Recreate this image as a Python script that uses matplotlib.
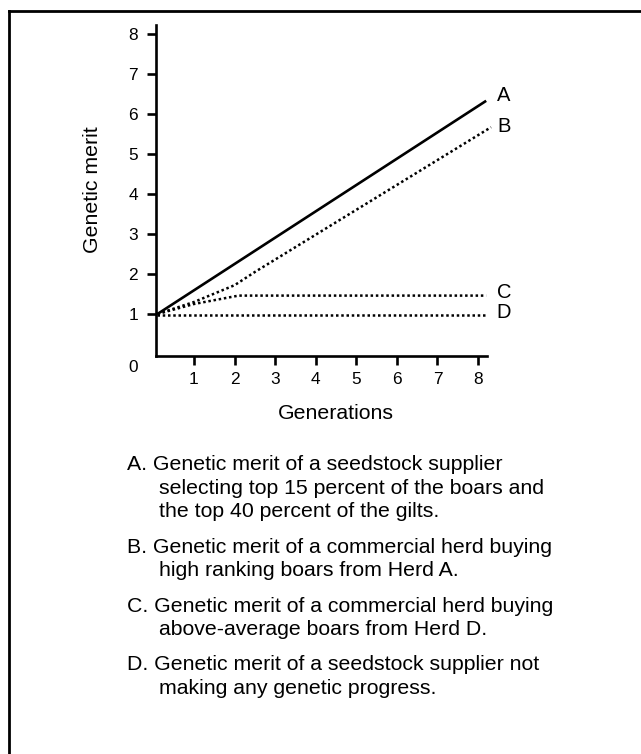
import matplotlib
matplotlib.use("Agg")
import matplotlib.pyplot as plt
from matplotlib.lines import Line2D

plt.rcParams['font.family'] = ['Liberation Sans', 'DejaVu Sans']

# ---- data ----
gen_A = [0.1, 8.2]
merit_A = [1.0, 6.33]
gen_B = [0.1, 1.0, 2.0, 2.5, 8.32]
merit_B = [1.0, 1.3, 1.72, 2.05, 5.67]
gen_C = [0.1, 1.0, 2.1, 8.2]
merit_C = [1.0, 1.25, 1.46, 1.46]
gen_D = [0.1, 8.2]
merit_D = [0.98, 0.98]
curve_names = ['A', 'B', 'C', 'D']
label_y = [6.47, 5.68, 1.55, 1.05]
xticks = [1, 2, 3, 4, 5, 6, 7, 8]
yticks = [1, 2, 3, 4, 5, 6, 7, 8]
notes = [
    ["A. Genetic merit of a seedstock supplier",
     "selecting top 15 percent of the boars and",
     "the top 40 percent of the gilts."],
    ["B. Genetic merit of a commercial herd buying",
     "high ranking boars from Herd A."],
    ["C. Genetic merit of a commercial herd buying",
     "above-average boars from Herd D."],
    ["D. Genetic merit of a seedstock supplier not",
     "making any genetic progress."],
]

W, H = 641, 754
fig = plt.figure(figsize=(W / 100, H / 100), dpi=100)

def fx(px):
    return px / W

def fy(py):
    return 1 - py / H

ax = fig.add_axes([fx(156), fy(356), (487 - 156) / W, (356 - 25) / H])
ax.set_xlim(0.064, 8.22)
ax.set_ylim(-0.05, 8.225)

dot = (0, (1, 1.1))
ax.plot(gen_A, merit_A, color='black', lw=1.9, solid_capstyle='butt', clip_on=False)
ax.plot(gen_B, merit_B, color='black', lw=1.8, linestyle=dot, clip_on=False)
ax.plot(gen_C, merit_C, color='black', lw=1.8, linestyle=dot, clip_on=False)
ax.plot(gen_D, merit_D, color='black', lw=1.8, linestyle=dot, clip_on=False)

for name, yv in zip(curve_names, label_y):
    ax.text(8.64, yv, name, fontsize=14.5, ha='center', va='center', clip_on=False)

for s in ['top', 'right']:
    ax.spines[s].set_visible(False)
for s in ['left', 'bottom']:
    ax.spines[s].set_linewidth(1.9)

ax.set_xticks(xticks)
ax.set_yticks(yticks)
ax.set_xticklabels([str(t) for t in xticks])
ax.set_yticklabels([str(t) for t in yticks])
ax.tick_params(axis='both', direction='out', length=6.5, width=1.9, labelsize=12.4, colors='black')
ax.tick_params(axis='x', pad=5)
ax.tick_params(axis='y', pad=6.3)

# zero label (no tick)
fig.text(fx(138), fy(367), "0", fontsize=12.4, ha='right', va='center')

ax.set_xlabel("Generations", fontsize=15.3)
ax.xaxis.label.set_va('baseline')
ax.xaxis.label.set_ha('center')
ax.xaxis.set_label_coords((336 - 156) / 331, (356 - 419) / 331)

ax.set_ylabel("Genetic merit", fontsize=15.3)
ax.yaxis.label.set_va('center')
ax.yaxis.label.set_ha('center')
ax.yaxis.set_label_coords((93 - 156) / 331, (356 - 190) / 331)

# notes block
baselines = [[470, 493.5, 517], [553, 576.5], [611.5, 635], [670, 693.5]]
for lines, bls in zip(notes, baselines):
    for i, (txt, bl) in enumerate(zip(lines, bls)):
        x0 = 127 if i == 0 else 159
        fig.text(fx(x0), fy(bl), txt, fontsize=15.3, ha='left', va='baseline')

# outer frame (only top and left visible)
fig.add_artist(Line2D([fx(9), 1.0], [fy(11), fy(11)], color='black', lw=2.0, solid_capstyle='projecting'))
fig.add_artist(Line2D([fx(9), fx(9)], [fy(11), 0.0], color='black', lw=2.0, solid_capstyle='projecting'))

fig.savefig("out.png", dpi=100)
